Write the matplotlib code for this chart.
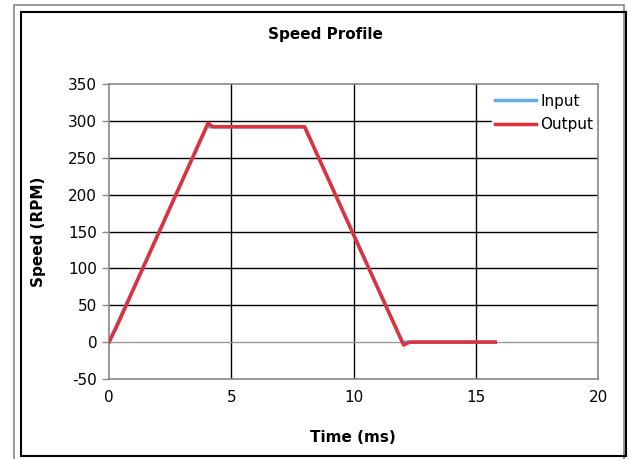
import matplotlib.pyplot as plt
from matplotlib.patches import Rectangle

# ===========================
# Data
# ===========================

input_time = [0, 4.0, 8.0, 12.0, 15.8]
input_speed = [0, 292, 292, 0, 0]

output_time = [0, 0.3, 4.05, 4.25, 8.0, 8.3, 12.05, 12.3, 15.8]
output_speed = [0, 20, 297, 292, 292, 270, -4, 0, 0]

x_ticks = [0, 5, 10, 15, 20]
y_ticks = [-50, 0, 50, 100, 150, 200, 250, 300, 350]

# ===========================
# Figure
# ===========================

plt.rcParams["font.family"] = "DejaVu Sans"
plt.rcParams["axes.unicode_minus"] = False

fig = plt.figure(figsize=(6.3, 4.59), dpi=100)
W, H = 630, 459

# outer frames
fig.patches.append(Rectangle((14 / W, 1 - 460 / H), (624 - 14) / W, (460 - 5) / H,
                             transform=fig.transFigure, fill=False,
                             edgecolor="#888888", linewidth=1.2))
fig.patches.append(Rectangle((21 / W, 1 - 456 / H), (626 - 21) / W, (456 - 12) / H,
                             transform=fig.transFigure, fill=False,
                             edgecolor="black", linewidth=1.5))

ax = fig.add_axes([109 / W, 1 - 379 / H, (598 - 109) / W, (379 - 84) / H])

for t in [5, 10, 15]:
    ax.axvline(t, color="black", linewidth=1.0, zorder=1)
for v in [50, 100, 150, 200, 250, 300]:
    ax.axhline(v, color="black", linewidth=1.0, zorder=1)
ax.axhline(0, color="#999999", linewidth=1.0, zorder=1)

ax.plot(input_time, input_speed, color="#66aaee", linewidth=2.5, label="Input", zorder=2)
ax.plot(output_time, output_speed, color="#e0313a", linewidth=2.5, label="Output", zorder=3)

ax.set_xlim(0, 20)
ax.set_ylim(-50, 350)
ax.set_xticks(x_ticks)
ax.set_yticks(y_ticks)
ax.tick_params(axis="both", labelsize=11, color="#888888", length=5, width=1)
ax.tick_params(axis="x", length=0, pad=8)
for spine in ax.spines.values():
    spine.set_color("#888888")
    spine.set_linewidth(1.2)

fig.text(325 / W, 1 - 35 / H, "Speed Profile", fontsize=11, fontweight="bold",
         ha="center", va="center")
fig.text(353 / W, 1 - 438 / H, "Time (ms)", fontsize=11, fontweight="bold",
         ha="center", va="center")
ax.set_ylabel("Speed (RPM)", fontsize=11, fontweight="bold", labelpad=16)

leg = ax.legend(loc="upper left", bbox_to_anchor=(484 / W, 1 - 83 / H),
                bbox_transform=fig.transFigure, frameon=True, fontsize=11,
                handlelength=2.7, handletextpad=0.3, borderpad=0.2,
                labelspacing=0.55, fancybox=False)
leg.get_frame().set_edgecolor("white")
leg.get_frame().set_facecolor("white")
leg.get_frame().set_alpha(1.0)
leg.set_zorder(2.4)

plt.savefig("out.png", dpi=100)
